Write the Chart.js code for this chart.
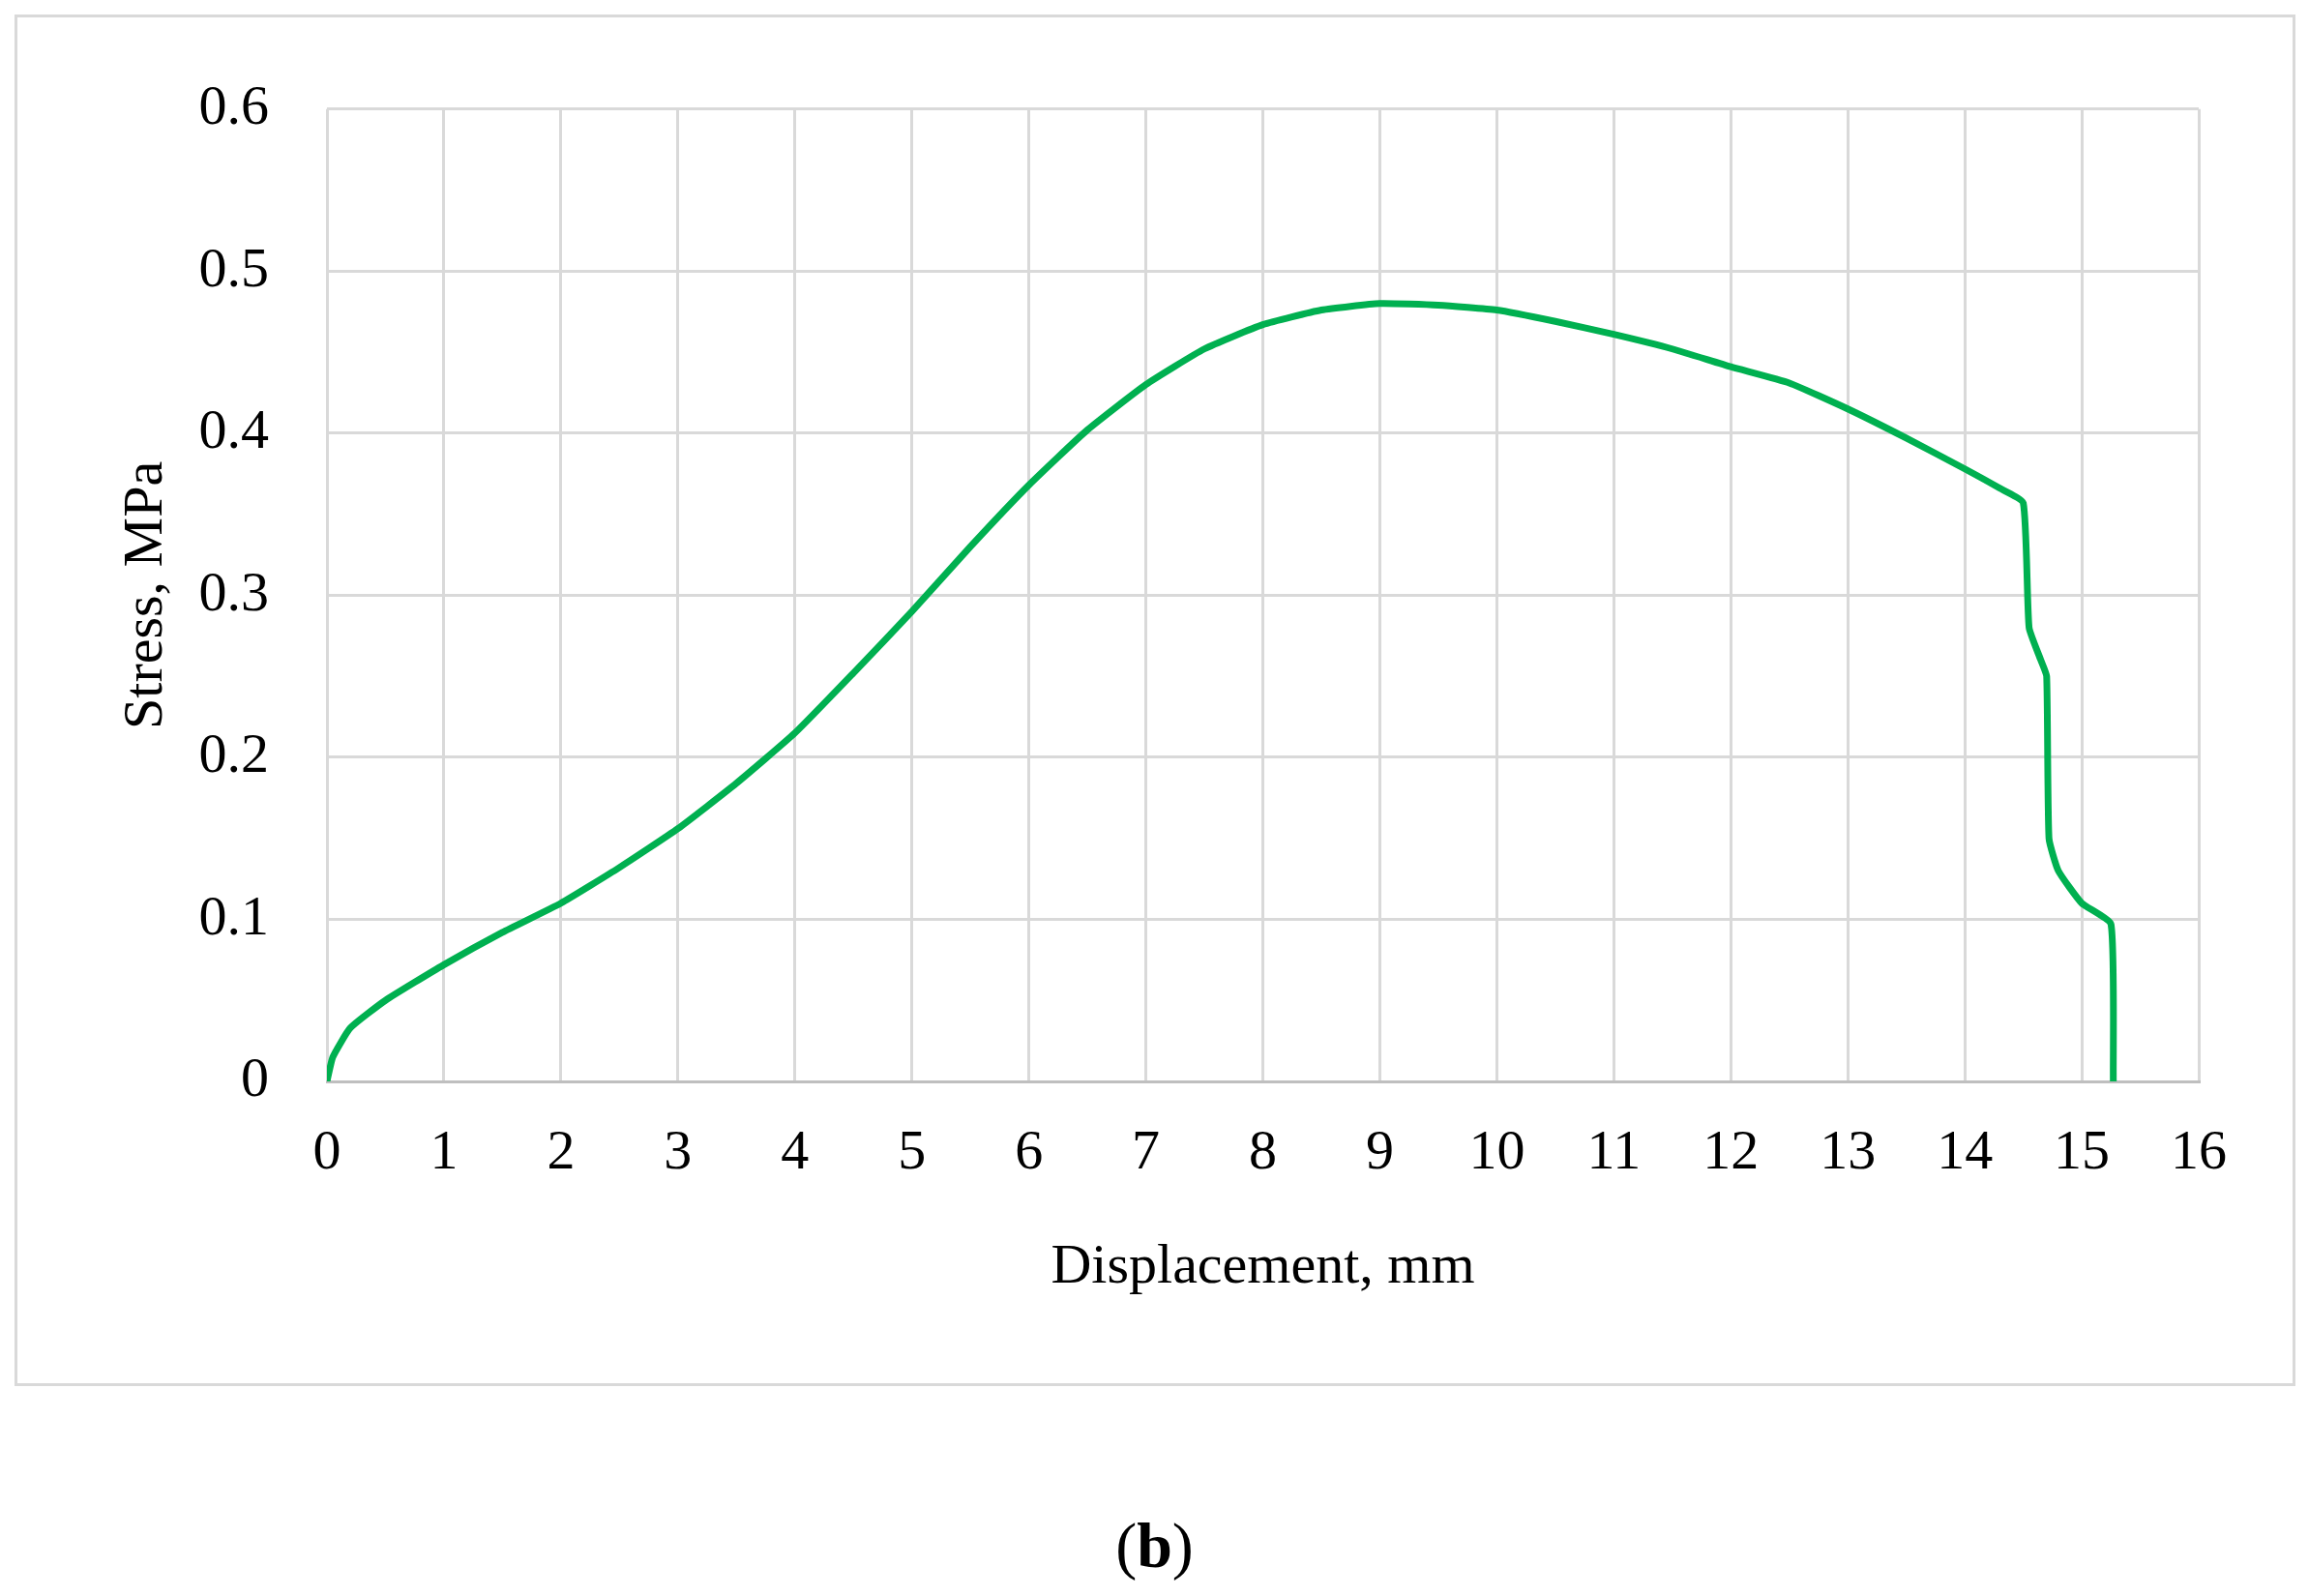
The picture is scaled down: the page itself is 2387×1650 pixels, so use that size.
<!DOCTYPE html>
<html><head><meta charset="utf-8">
<script src="https://cdn.jsdelivr.net/npm/chart.js@4"></script>
<style>
body{margin:0;background:#fff;width:2387px;height:1650px;position:relative;font-family:"Liberation Serif",serif}
#box{position:absolute;left:15px;top:15px;width:2352px;height:1412px;border:3px solid #d9d9d9}
#cap{position:absolute;left:0;width:2387px;top:1560px;text-align:center;font-size:66px;color:#000}
</style></head><body>
<div id="box"><canvas id="c"></canvas></div>
<div id="cap">(<b>b</b>)</div>
<script>
const xs=[0,0.05,0.2,0.5,1,1.5,2,2.5,3,3.5,4,4.5,5,5.5,6,6.5,7,7.5,8,8.5,9,9.5,10,10.5,11,11.5,12,12.5,13,13.5,14,14.3,14.5,14.55,14.65,14.7,14.72,14.8,15,15.25,15.27];
const ys=[0,0.015,0.033,0.05,0.072,0.092,0.11,0.132,0.156,0.184,0.215,0.252,0.29,0.33,0.368,0.402,0.43,0.452,0.467,0.476,0.48,0.479,0.476,0.469,0.461,0.452,0.441,0.431,0.415,0.397,0.378,0.366,0.357,0.28,0.26,0.25,0.15,0.13,0.11,0.097,0];
const pts=xs.map((x,i)=>({x:x,y:ys[i]}));
const font={family:'"Liberation Serif", serif',size:58};
new Chart(document.getElementById('c'),{
type:'scatter',
data:{datasets:[{data:pts,showLine:true,borderColor:'#00b050',borderWidth:7,pointRadius:0,tension:0.15}]},
options:{responsive:true,maintainAspectRatio:false,animation:false,
layout:{padding:{left:95,top:70,right:97,bottom:80}},
plugins:{legend:{display:false},tooltip:{enabled:false}},
scales:{
x:{type:'linear',min:0,max:16,ticks:{stepSize:1,color:'#000',font:font,padding:40},
grid:{color:'#d9d9d9',lineWidth:3,drawTicks:false},border:{color:'#bfbfbf',width:3},
title:{display:true,text:'Displacement, mm',color:'#000',font:font,padding:{top:20}},
afterFit:s=>{s.height=232;}},
y:{min:0,max:0.6,ticks:{stepSize:0.1,color:'#000',font:font,padding:60,callback:v=>Math.round(v*10)/10+''},
grid:{color:'#d9d9d9',lineWidth:3,drawTicks:false},border:{display:false},
title:{display:true,text:'Stress, MPa',color:'#000',font:font,padding:{bottom:0}},
afterFit:s=>{s.width=225;}}
}}});
</script></body></html>
